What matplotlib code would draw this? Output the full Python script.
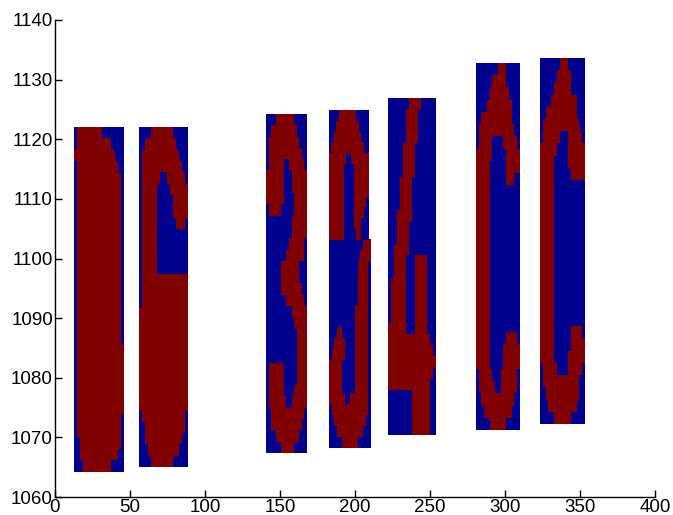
import numpy as np
import matplotlib
matplotlib.use("Agg")
import matplotlib.pyplot as plt
from matplotlib.colors import ListedColormap

# Binary character crops, one string per pixel row, '#' = character pixel
GLYPH_1 = [
    ".########.......",
    ".###########....",
    "#############...",
    ".#############..",
    ".##############.",
    ".##############.",
    ".##############.",
    ".##############.",
    ".##############.",
    ".##############.",
    ".##############.",
    ".##############.",
    ".##############.",
    ".##############.",
    ".##############.",
    ".##############.",
    ".##############.",
    ".##############.",
    ".##############.",
    ".###############",
    ".###############",
    ".###############",
    ".###############",
    ".###############",
    ".###############",
    ".##############.",
    ".##############.",
    "..#############.",
    "..############..",
    "...#########....",
]

GLYPH_2 = [
    "....#######.....",
    "..##########....",
    ".############...",
    ".#############..",
    ".######..######.",
    ".#####....######",
    ".#####.....#####",
    ".#####.....#####",
    ".#####......###.",
    ".#####..........",
    ".#####..........",
    ".#####..........",
    ".#####..........",
    ".###############",
    ".###############",
    ".###############",
    "################",
    "################",
    "################",
    "################",
    "################",
    "################",
    "################",
    "################",
    "################",
    ".##############.",
    "..#############.",
    "..############..",
    "...##########...",
    "....#######.....",
]

GLYPH_3 = [
    "....#######.....",
    "..##########....",
    ".############...",
    ".#############..",
    ".######..######.",
    "#######...######",
    "#######...######",
    "#######....#####",
    ".#####.....#####",
    "..........######",
    "..........######",
    ".........######.",
    "........#######.",
    "......#######...",
    "......#######...",
    "......########..",
    "........#######.",
    "..........######",
    "...........#####",
    "............####",
    "............####",
    "............####",
    ".######.....####",
    ".######.....####",
    ".######....#####",
    ".#######..######",
    "..#############.",
    "..############..",
    "....#########...",
    "......#####.....",
]

GLYPH_4_TOP = [
    "....#######.....",
    "...#########....",
    "..###########...",
    ".#############..",
    "#######..#######",
    "######....######",
    "######....######",
    "######....######",
    "######....#####.",
    "######....####..",
    "######....###...",
    "######.....##...",
]

GLYPH_4_BOTTOM = [
    ".............###",
    "............####",
    "...........####.",
    "...........####.",
    "...........####.",
    "...........####.",
    "..........#####.",
    "..........#####.",
    "...##.....#####.",
    "..####....#####.",
    ".#####....#####.",
    "#####.....#####.",
    "#####.....#####.",
    "#####.....#####.",
    "######..#######.",
    ".##############.",
    "..############..",
    "...##########...",
    ".....######.....",
]

GLYPH_5 = [
    ".......####.....",
    "......####......",
    "......####......",
    "......####......",
    ".....####.......",
    ".....####.......",
    ".....####.......",
    "....####........",
    "....####........",
    "....####........",
    "...#####........",
    "...####.........",
    "...####.........",
    "..#####.........",
    "..####...####...",
    "..####...####...",
    ".#####...####...",
    ".#####...####...",
    ".#####...####...",
    ".#####...####...",
    "######...####...",
    "##############..",
    "###############.",
    "################",
    "###############.",
    "##############..",
    "........######..",
    "........######..",
    "........######..",
    "........######..",
]

GLYPH_6 = [
    "........###.....",
    "......#####.....",
    ".....#######....",
    "....#########...",
    "..###########...",
    ".#############..",
    ".#####....#####.",
    "######.....#####",
    "#####......#####",
    "#####......###..",
    "#####...........",
    "#####...........",
    "#####...........",
    "#####...........",
    "#####...........",
    "#####...........",
    "#####...........",
    "#####...........",
    "#####...........",
    "#####...........",
    "#####...........",
    "#####...........",
    "#####......####.",
    "#####.....######",
    "#####.....######",
    ".#####...######.",
    ".######..######.",
    "..############..",
    "...##########...",
    ".....######.....",
]

GLYPH_7 = [
    ".......###......",
    "......#####.....",
    ".....######.....",
    "....#########...",
    "..###########...",
    ".#############..",
    ".######...#####.",
    "######....######",
    "#####.....######",
    "#####......#####",
    "#####...........",
    "#####...........",
    "#####...........",
    "#####...........",
    "#####...........",
    "#####...........",
    "#####...........",
    "#####...........",
    "#####...........",
    "#####...........",
    "#####...........",
    "#####...........",
    "#####......####.",
    "#####......#####",
    "#####.....######",
    ".#####....#####.",
    ".#############..",
    "..############..",
    "...##########...",
    ".....######.....",
]

GLYPHS = [GLYPH_1, GLYPH_2, GLYPH_3, GLYPH_4_BOTTOM, GLYPH_4_TOP,
          GLYPH_5, GLYPH_6, GLYPH_7]

# bounding box of every crop: (xmin, xmax, ymin, ymax)
BOXES = [
    (12.7, 45.5, 1064.2, 1122.0),
    (56.0, 88.2, 1065.1, 1122.0),
    (140.7, 167.8, 1067.3, 1124.1),
    (182.7, 210.5, 1068.2, 1103.1),
    (182.7, 209.3, 1103.1, 1124.9),
    (222.0, 253.8, 1070.4, 1126.8),
    (280.7, 310.0, 1071.3, 1132.8),
    (323.3, 352.9, 1072.3, 1133.6),
]

X_TICKS = [0, 50, 100, 150, 200, 250, 300, 350, 400]
Y_TICKS = [1060, 1070, 1080, 1090, 1100, 1110, 1120, 1130, 1140]


def to_array(rows):
    return np.array([[1 if ch == "#" else 0 for ch in r] for r in rows])


plt.rcParams["font.family"] = ["Liberation Sans", "DejaVu Sans"]

fig = plt.figure(figsize=(6.73, 5.15), dpi=100)
ax = fig.add_axes([55 / 673, 18 / 515, 600 / 673, 477 / 515])

cmap = ListedColormap(["#00008f", "#800000"])
for rows, (x0, x1, y0, y1) in zip(GLYPHS, BOXES):
    ax.imshow(to_array(rows), cmap=cmap, vmin=0, vmax=1,
              extent=(x0, x1, y0, y1), origin="upper",
              aspect="auto", interpolation="nearest")

ax.set_xlim(0, 400)
ax.set_ylim(1060, 1140)
ax.set_xticks(X_TICKS)
ax.set_yticks(Y_TICKS)
ax.spines["top"].set_visible(False)
ax.spines["right"].set_visible(False)
for s in ("left", "bottom"):
    ax.spines[s].set_linewidth(1.0)
ax.tick_params(direction="in", length=5, width=1, labelsize=13.5, pad=1.5)

fig.savefig("out.png", dpi=100)
